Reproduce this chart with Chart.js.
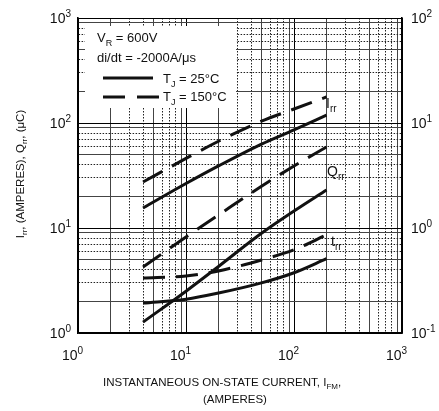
<!DOCTYPE html>
<html>
<head>
<meta charset="utf-8">
<script src="https://cdn.jsdelivr.net/npm/chart.js@4.4.0/dist/chart.umd.min.js"></script>
<style>
  html, body { margin: 0; padding: 0; background: #fff; }
  #wrap { width: 439px; height: 411px; }
</style>
</head>
<body>
<div id="wrap"><canvas id="recoveryChart"></canvas></div>
<script>
// forward current, amperes
const currentAmps = [4, 10, 20, 50, 100, 200];

// peak reverse recovery current Irr (A), left axis
const irr25 = [15.5, 26.5, 39, 63, 86, 119];
const irr150 = [27.4, 46, 67, 104, 136, 177];

// reverse recovery charge Qrr (uC), left axis
const qrr25 = [1.27, 2.5, 4.3, 8.9, 14.5, 23];
const qrr150 = [4.25, 8.2, 13.3, 25, 39, 59];

// reverse recovery time trr (us), right axis
const trr25 = [0.193, 0.21, 0.24, 0.30, 0.375, 0.51];
const trr150 = [0.334, 0.349, 0.39, 0.496, 0.62, 0.86];

// decade tick labels (exponents of ten)
const xExponents = ['0', '1', '2', '3'];
const leftExponents = ['0', '1', '2', '3'];
const rightExponents = ['-1', '0', '1', '2'];

const FONT = '"Liberation Sans", Arial, Helvetica, sans-serif';
const INK = '#111';
const DASH = [22, 11];

function pts(ys) {
    return currentAmps.map((x, i) => ({ x: x, y: ys[i] }));
}

// 1..9 x 10^n ticks so every grid line is drawn
function logTicks(scale) {
    const ticks = [];
    let e = Math.floor(Math.log10(scale.min) + 1e-9);
    while (true) {
        for (let m = 1; m <= 9; m++) {
            const v = +(m * Math.pow(10, e)).toPrecision(6);
            if (v < scale.min * 0.999) continue;
            if (v > scale.max * 1.001) { scale.ticks = ticks; return; }
            ticks.push({ value: v });
        }
        e++;
    }
}

function mantissa(v) {
    return Math.round(v / Math.pow(10, Math.floor(Math.log10(v) + 1e-9)));
}

function dotted(v) {
    const m = mantissa(v);
    return !(m === 1 || m === 2 || m === 5 || m === 9);
}

const gridOpts = {
    drawTicks: false,
    color: ctx => {
        if (!ctx.tick) return '#000';
        if (mantissa(ctx.tick.value) === 1) return '#000';
        return dotted(ctx.tick.value) ? '#222' : '#444';
    },
    lineWidth: 1
};
const borderOpts = {
    color: '#000',
    width: 1.6,
    dash: ctx => (ctx.tick && dotted(ctx.tick.value)) ? [1.5, 1.5] : []
};

// draws a run of [text, isSubscript] pieces starting at x
function drawRich(ctx, parts, x, y, size) {
    let cx = x;
    parts.forEach(([t, sub]) => {
        const s = sub ? Math.round(size * 0.7) : size;
        ctx.font = s + 'px ' + FONT;
        ctx.fillText(t, cx, sub ? y + size * 0.28 : y);
        cx += ctx.measureText(t).width;
    });
    return cx - x;
}

function richWidth(ctx, parts, size) {
    let w = 0;
    parts.forEach(([t, sub]) => {
        ctx.font = (sub ? Math.round(size * 0.7) : size) + 'px ' + FONT;
        w += ctx.measureText(t).width;
    });
    return w;
}

function drawPower(ctx, exp, x, y, align) {
    ctx.font = '14px ' + FONT;
    const bw = ctx.measureText('10').width;
    ctx.font = '10px ' + FONT;
    const ew = ctx.measureText(exp).width;
    const left = align === 'right' ? x - bw - ew : x;
    ctx.font = '14px ' + FONT;
    ctx.fillText('10', left, y);
    ctx.font = '10px ' + FONT;
    ctx.fillText(exp, left + bw, y - 6);
}

// conditions box in the upper left corner of the grid
const conditionsBox = {
    id: 'conditionsBox',
    beforeDatasetsDraw(chart) {
        const ctx = chart.ctx;
        ctx.save();
        ctx.fillStyle = '#fff';
        ctx.fillRect(85, 26, 151, 82);
        ctx.fillStyle = INK;
        ctx.textAlign = 'left';
        ctx.textBaseline = 'alphabetic';
        drawRich(ctx, [['V', false], ['R', true], [' = 600V', false]], 97, 42, 13);
        drawRich(ctx, [['di/dt = -2000A/\u03bcs', false]], 97, 62, 13);
        ctx.strokeStyle = INK;
        ctx.lineWidth = 3;
        ctx.beginPath();
        ctx.moveTo(103, 78); ctx.lineTo(153, 78);
        ctx.stroke();
        ctx.setLineDash([22, 12]);
        ctx.beginPath();
        ctx.moveTo(103, 97); ctx.lineTo(159, 97);
        ctx.stroke();
        ctx.setLineDash([]);
        drawRich(ctx, [['T', false], ['J', true], [' = 25\u00b0C', false]], 163, 83, 13);
        drawRich(ctx, [['T', false], ['J', true], [' = 150\u00b0C', false]], 163, 101, 13);
        ctx.restore();
    }
};

// curve names, axis numbers and titles
const annotations = {
    id: 'annotations',
    afterDraw(chart) {
        const ctx = chart.ctx;
        const x = chart.scales.x, y = chart.scales.y, y2 = chart.scales.y2;
        ctx.save();
        ctx.fillStyle = INK;
        ctx.textAlign = 'left';
        ctx.textBaseline = 'alphabetic';

        drawRich(ctx, [['I', false], ['rr', true]], 326, 108, 14);
        drawRich(ctx, [['Q', false], ['rr', true]], 327, 176, 14);
        drawRich(ctx, [['t', false], ['rr', true]], 331, 246, 14);

        leftExponents.forEach(e => {
            drawPower(ctx, e, 71, y.getPixelForValue(Math.pow(10, +e)) + 5, 'right');
        });
        rightExponents.forEach(e => {
            drawPower(ctx, e, 411, y2.getPixelForValue(Math.pow(10, +e)) + 5, 'left');
        });
        xExponents.forEach(e => {
            drawPower(ctx, e, x.getPixelForValue(Math.pow(10, +e)) - 16, 360, 'left');
        });

        drawRich(ctx, [['INSTANTANEOUS ON-STATE CURRENT, I', false], ['FM', true], [',', false]], 103, 386, 11.5);
        drawRich(ctx, [['(AMPERES)', false]], 203, 403, 11.5);

        const yTitle = [['I', false], ['rr', true], [', (AMPERES), Q', false], ['rr', true], [', (\u03bcC)', false]];
        ctx.translate(24, 174);
        ctx.rotate(-Math.PI / 2);
        const w = richWidth(ctx, yTitle, 11.5);
        drawRich(ctx, yTitle, -w / 2, 0, 11.5);
        ctx.restore();
    }
};

function series(label, data, axis, dashed) {
    return {
        label: label,
        data: pts(data),
        yAxisID: axis,
        borderColor: INK,
        borderWidth: 3,
        borderDash: dashed ? DASH : [],
        pointRadius: 0,
        fill: false,
        cubicInterpolationMode: 'monotone'
    };
}

const ctx = document.getElementById('recoveryChart').getContext('2d');
new Chart(ctx, {
    type: 'line',
    data: {
        datasets: [
            series('Irr TJ=25C', irr25, 'y', false),
            series('Irr TJ=150C', irr150, 'y', true),
            series('Qrr TJ=25C', qrr25, 'y', false),
            series('Qrr TJ=150C', qrr150, 'y', true),
            series('trr TJ=25C', trr25, 'y2', false),
            series('trr TJ=150C', trr150, 'y2', true)
        ]
    },
    options: {
        responsive: true,
        maintainAspectRatio: false,
        animation: false,
        layout: { padding: { left: 78, right: 37, top: 18, bottom: 78 } },
        plugins: {
            legend: { display: false },
            tooltip: { enabled: false }
        },
        scales: {
            x: {
                type: 'logarithmic',
                min: 1,
                max: 1000,
                afterBuildTicks: logTicks,
                ticks: { display: false },
                grid: gridOpts,
                border: borderOpts
            },
            y: {
                type: 'logarithmic',
                position: 'left',
                min: 1,
                max: 1000,
                afterBuildTicks: logTicks,
                ticks: { display: false },
                grid: gridOpts,
                border: borderOpts
            },
            y2: {
                type: 'logarithmic',
                position: 'right',
                min: 0.1,
                max: 100,
                afterBuildTicks: logTicks,
                ticks: { display: false },
                grid: { display: false, drawTicks: false },
                border: { color: '#000', width: 1.6 }
            }
        }
    },
    plugins: [conditionsBox, annotations]
});
</script>
</body>
</html>
